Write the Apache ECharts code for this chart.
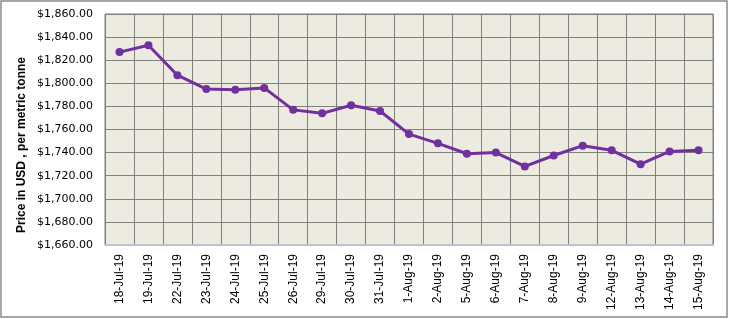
<!DOCTYPE html>
<html>
<head>
<meta charset="utf-8">
<script src="https://cdn.jsdelivr.net/npm/echarts@6/dist/echarts.min.js"></script>
<style>html,body{margin:0;padding:0;background:#fff}#c{width:729px;height:319px}</style>
</head>
<body>
<div id="c"></div>
<script>
const categories = ['18-Jul-19','19-Jul-19','22-Jul-19','23-Jul-19','24-Jul-19','25-Jul-19','26-Jul-19','29-Jul-19','30-Jul-19','31-Jul-19','1-Aug-19','2-Aug-19','5-Aug-19','6-Aug-19','7-Aug-19','8-Aug-19','9-Aug-19','12-Aug-19','13-Aug-19','14-Aug-19','15-Aug-19'];
const prices = [1827,1833,1807,1795,1794.5,1796,1777,1774,1781,1776,1756,1748,1739,1740,1728,1737.5,1746,1742,1730,1741,1742];
const yMin = 1660, yMax = 1860, yStep = 20;
const yTitle = 'Price in USD , per metric tonne';

const chart = echarts.init(document.getElementById('c'), null, {renderer:'canvas'});
chart.setOption({
  animation:false,
  backgroundColor:'#fff',
  graphic:[
    {type:'rect', shape:{x:1, y:1, width:726, height:316}, style:{fill:'none', stroke:'#8a8a8a', lineWidth:1.5}, z:-1},
    {type:'text', x:22, y:145, rotation:Math.PI/2, style:{text:yTitle, font:'bold 12px "Liberation Sans", Arial, sans-serif', fill:'#000', textAlign:'center', textVerticalAlign:'middle'}}
  ],
  grid:{left:105, right:16, top:14, bottom:74, show:true, backgroundColor:'#EDEAE0', borderColor:'#808080', borderWidth:1},
  xAxis:{
    type:'category', data:categories, boundaryGap:true,
    axisLine:{show:true, lineStyle:{color:'#C5D3E2', width:1.5}},
    axisTick:{show:false},
    splitLine:{show:true, interval:0, lineStyle:{color:'#808080', width:1}},
    axisLabel:{interval:0, rotate:90, margin:9, color:'#000', fontSize:12, fontFamily:'"Liberation Sans", Arial, sans-serif'}
  },
  yAxis:{
    type:'value', min:yMin, max:yMax, interval:yStep,
    axisLine:{show:false}, axisTick:{show:false},
    splitLine:{show:true, lineStyle:{color:'#808080', width:1}},
    axisLabel:{margin:12, color:'#000', fontSize:11, fontFamily:'"DejaVu Sans", Verdana, sans-serif',
      formatter:v=>'$'+v.toLocaleString('en-US',{minimumFractionDigits:2, maximumFractionDigits:2})}
  },
  series:[{
    type:'line', data:prices, symbol:'circle', symbolSize:8,
    lineStyle:{color:'#7030A0', width:3}, itemStyle:{color:'#7030A0'}
  }]
});
</script>
</body>
</html>
